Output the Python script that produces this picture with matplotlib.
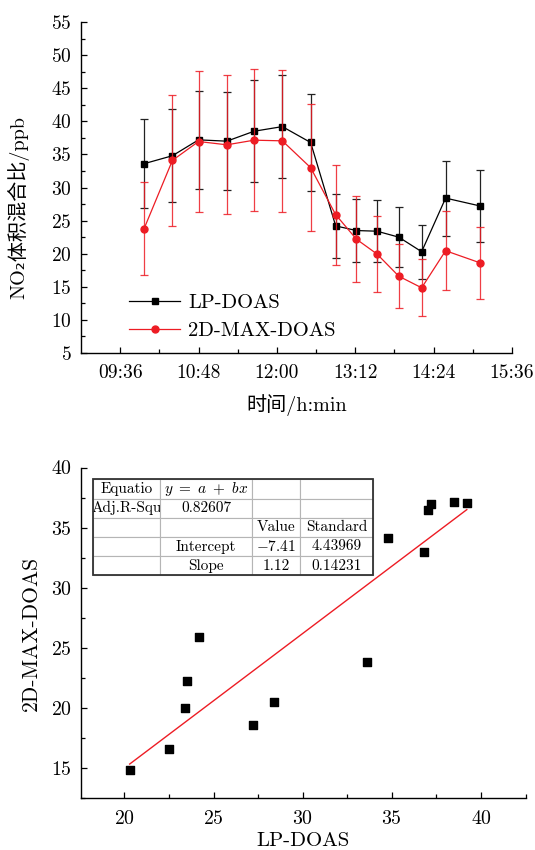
import matplotlib
matplotlib.use('Agg')
import matplotlib.pyplot as plt
import numpy as np
from matplotlib.patches import Rectangle
from matplotlib.ticker import MultipleLocator, FixedLocator

plt.rcParams['font.family'] = ['cmr10', 'Noto Sans CJK SC', 'DejaVu Sans']
plt.rcParams['mathtext.fontset'] = 'cm'
plt.rcParams['axes.formatter.use_mathtext'] = True

# datos
horas = ["09:58", "10:24", "10:48", "11:14", "11:39", "12:05", "12:31",
         "12:54", "13:13", "13:32", "13:52", "14:13", "14:35", "15:07"]
lp_doas = [33.6, 34.8, 37.2, 37.0, 38.5, 39.2, 36.8, 24.2, 23.5, 23.4, 22.5, 20.3, 28.4, 27.2]
lp_err = [6.7, 7.0, 7.4, 7.4, 7.7, 7.8, 7.35, 4.85, 4.75, 4.65, 4.5, 4.05, 5.65, 5.45]
max_doas = [23.8, 34.1, 36.95, 36.45, 37.15, 37.05, 33.0, 25.9, 22.2, 19.95, 16.6, 14.85, 20.45, 18.6]
max_err = [7.0, 9.9, 10.7, 10.5, 10.75, 10.7, 9.55, 7.55, 6.45, 5.8, 4.8, 4.3, 5.95, 5.45]
etiquetas_x = ["09:36", "10:48", "12:00", "13:12", "14:24", "15:36"]

# ajuste lineal (tabla)
a_fit = -7.41
b_fit = 1.12
tabla = [["Equatio", r"$y\ =\ a\ +\ bx$", "", ""],
         ["Adj.R-Squ", "0.82607", "", ""],
         ["", "", "Value", "Standard"],
         ["", "Intercept", r"$-7.41$", "4.43969"],
         ["", "Slope", "1.12", "0.14231"]]

ROJO = '#ed1c24'


def a_minutos(h):
    hh, mm = h.split(':')
    return int(hh) * 60 + int(mm)


x_min = np.array([a_minutos(h) for h in horas])
ticks = np.array([a_minutos(h) for h in etiquetas_x])

fig = plt.figure(figsize=(5.35, 8.5), dpi=100)

# grafica superior: serie temporal
ax1 = fig.add_axes([0.1514, 0.5847, 0.8056, 0.3894])
ax1.errorbar(x_min, lp_doas, yerr=lp_err, fmt='none', elinewidth=0.9,
             capsize=2.8, capthick=0.9, ecolor='#222222')
ax1.plot(x_min, lp_doas, color='black', marker='s', ms=4.3, lw=0.9, label='LP-DOAS')
ax1.errorbar(x_min, max_doas, yerr=max_err, fmt='none', elinewidth=0.9,
             capsize=2.8, capthick=0.9, ecolor=(0.93, 0.11, 0.14, 0.85))
ax1.plot(x_min, max_doas, color=ROJO, marker='o', ms=5, lw=0.9, label='2D-MAX-DOAS')
ax1.set_xlim(ticks[0] - 36, ticks[-1])
ax1.set_ylim(5, 55)
ax1.xaxis.set_major_locator(FixedLocator(ticks))
ax1.xaxis.set_minor_locator(FixedLocator(ticks[:-1] + 36))
ax1.set_xticklabels(etiquetas_x)
ax1.yaxis.set_major_locator(MultipleLocator(5))
ax1.yaxis.set_minor_locator(MultipleLocator(2.5))
ax1.set_ylabel('NO₂体积混合比/ppb', fontsize=14.5)
ax1.set_xlabel('时间/h:min', fontsize=14.5)
ax1.yaxis.set_label_coords(-0.12, 0.44)
ax1.xaxis.set_label_coords(0.5, -0.125)
leg = ax1.legend(loc='lower left', bbox_to_anchor=(0.111, 0.04), frameon=False,
                 borderpad=0, borderaxespad=0, handlelength=2.5, handletextpad=0.4,
                 labelspacing=0.45, fontsize=14.8)

# grafica inferior: dispersion
ax2 = fig.add_axes([0.1514, 0.0606, 0.8318, 0.3894])
ax2.scatter(lp_doas, max_doas, marker='s', s=30, color='black', zorder=3)
xf = np.array([min(lp_doas), max(lp_doas)])
ax2.plot(xf, a_fit + b_fit * xf, color=ROJO, lw=1.0)
ax2.set_xlim(17.57, 42.52)
ax2.set_ylim(12.46, 40)
ax2.xaxis.set_major_locator(MultipleLocator(5))
ax2.xaxis.set_minor_locator(MultipleLocator(2.5))
ax2.yaxis.set_major_locator(MultipleLocator(5))
ax2.yaxis.set_minor_locator(MultipleLocator(2.5))
ax2.set_xlabel('LP-DOAS', fontsize=15)
ax2.set_ylabel('2D-MAX-DOAS', fontsize=15.5)
ax2.yaxis.set_label_coords(-0.09, 0.5)
ax2.xaxis.set_label_coords(0.5, -0.1)

caja = [0.0276, 0.674, 0.629, 0.29]
t = ax2.table(cellText=tabla, cellLoc='center', colWidths=[66.7, 92.3, 48, 73],
              bbox=caja)
t.auto_set_font_size(False)
t.set_fontsize(11)
for celda in t.get_celld().values():
    celda.set_edgecolor('#b5b5b5')
    celda.set_linewidth(0.8)
    celda.PAD = 0.02
ax2.add_patch(Rectangle((caja[0], caja[1]), caja[2], caja[3], transform=ax2.transAxes,
                        fill=False, edgecolor='#333333', lw=1.3, zorder=5))

for ax in (ax1, ax2):
    ax.spines['top'].set_visible(False)
    ax.spines['right'].set_visible(False)
    ax.spines['left'].set_linewidth(1.0)
    ax.spines['bottom'].set_linewidth(1.0)
    ax.tick_params(which='major', direction='in', length=4.3, width=0.9)
    ax.tick_params(which='minor', direction='in', length=2.6, width=0.9)
    ax.tick_params(axis='y', which='major', pad=6.5)
    ax.tick_params(axis='x', which='major', pad=8)
ax1.tick_params(labelsize=14)
ax2.tick_params(labelsize=14.3)

fig.savefig('out.png', dpi=100)
